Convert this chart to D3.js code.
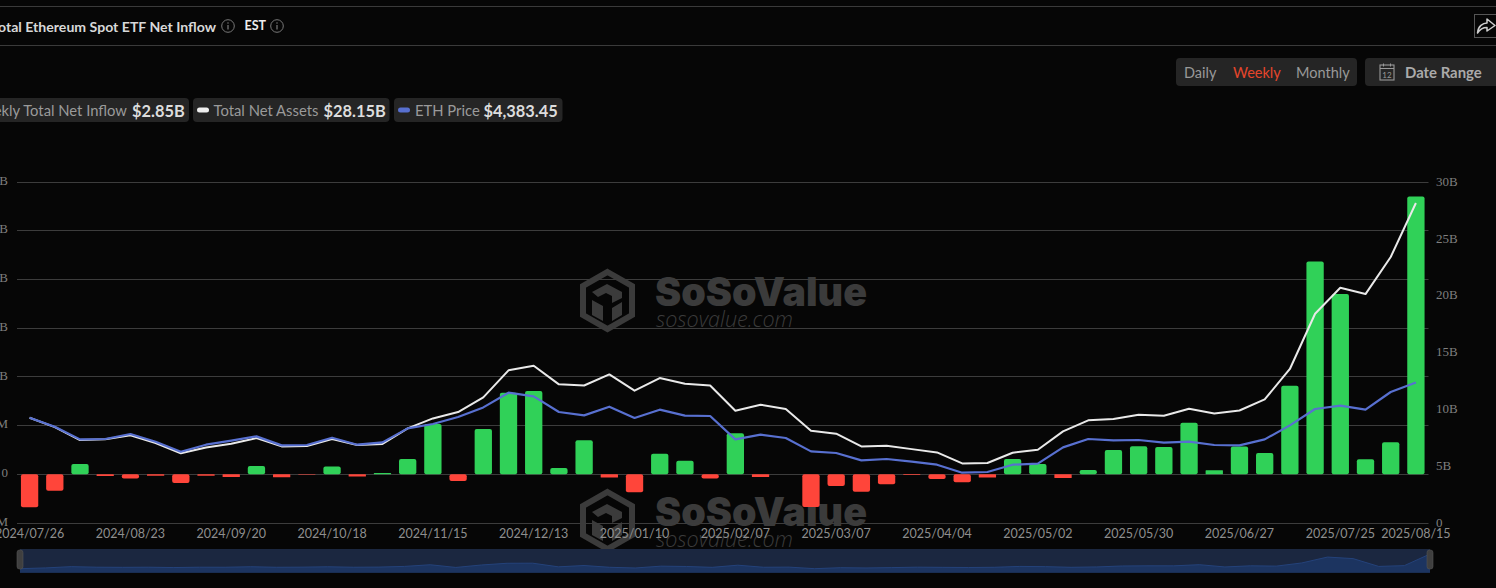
<!DOCTYPE html>
<html>
<head>
<meta charset="utf-8">
<script src="https://cdn.jsdelivr.net/npm/d3@7/dist/d3.min.js"></script>
<style>
html,body{margin:0;padding:0;background:#060606;overflow:hidden}
svg{display:block;font-family:Lato,"Open Sans",sans-serif}
</style>
</head>
<body>
<svg id="c" width="1496" height="588"></svg>
<script>
const dates = ["2024/07/26","2024/08/02","2024/08/09","2024/08/16","2024/08/23","2024/08/30","2024/09/06","2024/09/13","2024/09/20","2024/09/27","2024/10/04","2024/10/11","2024/10/18","2024/10/25","2024/11/01","2024/11/08","2024/11/15","2024/11/22","2024/11/29","2024/12/06","2024/12/13","2024/12/20","2024/12/27","2025/01/03","2025/01/10","2025/01/17","2025/01/24","2025/01/31","2025/02/07","2025/02/14","2025/02/21","2025/02/28","2025/03/07","2025/03/14","2025/03/21","2025/03/28","2025/04/04","2025/04/11","2025/04/18","2025/04/25","2025/05/02","2025/05/09","2025/05/16","2025/05/23","2025/05/30","2025/06/06","2025/06/13","2025/06/20","2025/06/27","2025/07/04","2025/07/11","2025/07/18","2025/07/25","2025/08/01","2025/08/08","2025/08/15"];
const netInflow = [-0.339,-0.168,0.106,-0.017,-0.044,-0.015,-0.089,-0.015,-0.027,0.086,-0.03,-0.006,0.079,-0.024,0.012,0.157,0.516,-0.068,0.465,0.838,0.855,0.065,0.349,-0.034,-0.185,0.212,0.14,-0.044,0.42,-0.027,0,-0.335,-0.12,-0.178,-0.103,-0.008,-0.048,-0.082,-0.034,0.157,0.106,-0.037,0.044,0.25,0.287,0.28,0.53,0.041,0.284,0.219,0.91,2.185,1.85,0.154,0.328,2.85];
const netAssets = [9.26,8.44,7.3,7.36,7.71,7.04,6.13,6.65,6.98,7.47,6.74,6.77,7.39,6.86,6.95,8.32,9.2,9.76,11.05,13.43,13.84,12.2,12.1,13.07,11.64,12.75,12.25,12.1,9.88,10.4,10.03,8.12,7.86,6.74,6.8,6.5,6.21,5.24,5.28,6.18,6.45,8.06,9.03,9.15,9.53,9.44,10.05,9.64,9.9,10.87,13.55,18.41,20.7,20.14,23.4,28.15];
const ethPrice = [3283,3003,2607,2619,2775,2535,2223,2441,2566,2700,2420,2432,2660,2441,2513,2950,3087,3305,3604,4063,3947,3461,3355,3626,3274,3533,3346,3336,2607,2753,2650,2233,2183,1952,1996,1911,1818,1568,1590,1818,1849,2357,2619,2575,2588,2504,2535,2432,2420,2607,3043,3555,3657,3533,4085,4383.45];
const xTickLabels = ["2024/07/26","2024/08/23","2024/09/20","2024/10/18","2024/11/15","2024/12/13","2025/01/10","2025/02/07","2025/03/07","2025/04/04","2025/05/02","2025/05/30","2025/06/27","2025/07/25","2025/08/15"];
const leftTicks = [-0.5,0,0.5,1,1.5,2,2.5,3];
const rightTicks = [0,5,10,15,20,25,30];

const svg = d3.select("#c");
const GRID="#3c3c3c", AXIS="#7f7f7f", GREEN="#30d158", RED="#ff453a", WHITE="#e9e9e9", BLUE="#5870d0";
const top_=182, bot=523, left=17, right=1428.5;

const x = d3.scaleBand().domain(dates).range([left,right]).paddingInner(0.313).paddingOuter(0.156);
const cx = d => x(d)+x.bandwidth()/2;
const yL = d3.scaleLinear().domain([-0.5,3]).range([bot,top_]);
const yR = d3.scaleLinear().domain([0,30]).range([bot,top_]);
const yE = d3.scaleLinear().domain([0,10632]).range([bot,top_]);

// page chrome
function hline(y){svg.append("line").attr("x1",0).attr("x2",1496).attr("y1",y).attr("y2",y).attr("stroke","#3a3a3a").attr("stroke-width",1);}
hline(6.5);hline(45.5);

function txt(x,y,s,o={}){
  return svg.append("text").attr("x",x).attr("y",y).attr("text-anchor",o.a||"start")
   .attr("dominant-baseline","central").attr("fill",o.c||"#aaa").attr("font-size",o.s||14)
   .attr("font-weight",o.w||400).attr("font-family",o.f||null).text(s);
}
function info(cx,cy){
  svg.append("circle").attr("cx",cx).attr("cy",cy).attr("r",6.3).attr("fill","none").attr("stroke","#777").attr("stroke-width",1);
  svg.append("line").attr("x1",cx).attr("x2",cx).attr("y1",cy-1).attr("y2",cy+3.5).attr("stroke","#888").attr("stroke-width",1.1);
  svg.append("circle").attr("cx",cx).attr("cy",cy-3).attr("r",.7).attr("fill","#888");
}
txt(216,26.5,"Total Ethereum Spot ETF Net Inflow",{a:"end",c:"#d8d8d8",s:14.1,w:700});
info(228,26);
txt(244.5,25.5,"EST",{c:"#eee",s:12.5,w:700});
info(277,26);

// share box
svg.append("rect").attr("x",1474.5).attr("y",14.5).attr("width",30).attr("height",23).attr("fill","none").attr("stroke","#555");
svg.append("path").attr("d","M1477.5 33 C1478 26 1483 23 1487 23 L1487 19 L1495 25.5 L1487 31 L1487 27.5 C1483.5 27.5 1480 29 1477.5 33 Z")
  .attr("fill","none").attr("stroke","#cfcfcf").attr("stroke-width",1.5).attr("stroke-linejoin","round");

// range buttons
const chip="#252525";
svg.append("rect").attr("x",1176).attr("y",58).attr("width",181).attr("height",28).attr("rx",4).attr("fill",chip);
svg.append("rect").attr("x",1365).attr("y",58).attr("width",160).attr("height",28).attr("rx",4).attr("fill",chip);
txt(1184,72,"Daily",{c:"#999",s:14.5});
txt(1233,72,"Weekly",{c:"#e5452b",s:14.5});
txt(1296,72,"Monthly",{c:"#999",s:14.5});
txt(1405,72,"Date Range",{c:"#aaa",s:14.9,w:700});
svg.append("rect").attr("x",1380).attr("y",65).attr("width",14).attr("height",15).attr("fill","none").attr("stroke","#999").attr("stroke-width",1.1);
svg.append("line").attr("x1",1380).attr("x2",1394).attr("y1",68.5).attr("y2",68.5).attr("stroke","#999");
svg.selectAll(".peg").data([1383.5,1390.5]).join("line").attr("x1",d=>d).attr("x2",d=>d).attr("y1",63.5).attr("y2",66.5).attr("stroke","#999");
txt(1387,74.5,"12",{a:"middle",c:"#999",s:8});

// legend chips
[[ -20,209],[193,196.5],[394,168.5]].forEach(d=>svg.append("rect").attr("x",d[0]).attr("y",98).attr("width",d[1]).attr("height",24).attr("rx",4).attr("fill",chip));
txt(127,110,"Weekly Total Net Inflow",{a:"end",c:"#9a9a9a",s:14.8});
txt(132,110,"$2.85B",{c:"#ddd",s:16.4,w:700});
svg.append("rect").attr("x",197).attr("y",107.5).attr("width",12).attr("height",5).attr("rx",2.5).attr("fill","#eee");
txt(213.5,110,"Total Net Assets",{c:"#9a9a9a",s:14.8});
txt(323.5,110,"$28.15B",{c:"#ddd",s:16.4,w:700});
svg.append("rect").attr("x",398).attr("y",107.5).attr("width",12).attr("height",5).attr("rx",2.5).attr("fill",BLUE);
txt(415,110,"ETH Price",{c:"#9a9a9a",s:14.8});
txt(483.5,110,"$4,383.45",{c:"#ddd",s:16.4,w:700});

// watermarks
function watermark(dy){
  const g=svg.append("g").attr("transform",`translate(0,${dy})`);
  const W="#3b3b3b";
  g.append("path").attr("d","M607.5 272 L632 286 L632 315 L607.5 329 L583 315 L583 286 Z").attr("fill","none").attr("stroke",W).attr("stroke-width",6);
  g.append("path").attr("d","M592 292 L607 284 L622 292 L622 298 L612 303 L612 296 L606 293 L598 297 Z M592 300 L603 306 L603 321 L592 315 Z M612 308 L622 302 L622 315 L612 321 Z").attr("fill",W);
  g.append("text").attr("x",655).attr("y",306).attr("font-family","Inter,Lato,sans-serif").attr("font-weight",900)
    .attr("font-size",40).attr("textLength",212).attr("lengthAdjust","spacingAndGlyphs").attr("fill",W).text("SoSoValue");
  g.append("text").attr("x",656).attr("y",327).attr("font-family","'Open Sans',sans-serif").attr("font-style","italic").attr("font-weight",300)
    .attr("font-size",21.5).attr("textLength",137).attr("lengthAdjust","spacingAndGlyphs").attr("fill",W).text("sosovalue.com");
}
watermark(0);watermark(220);

// grid + axes
const gGrid=svg.append("g");
gGrid.selectAll("line").data(leftTicks).join("line").attr("x1",left).attr("x2",right)
  .attr("y1",d=>Math.floor(yL(d))+.5).attr("y2",d=>Math.floor(yL(d))+.5).attr("stroke",GRID);

const fmtL=d=>d===0?"0":(Math.abs(d)<1?(d*1000)+"M":d+"B");
const axL=svg.append("g").attr("transform","translate(8,-2)").call(d3.axisLeft(yL).tickValues(leftTicks).tickFormat(fmtL).tickSize(0).tickPadding(0));
axL.select(".domain").remove();
const yRLabel=d3.scaleLinear().domain([0,30]).range([522,181]);
const axR=svg.append("g").attr("transform","translate(1436,0)").call(d3.axisRight(yRLabel).tickValues(rightTicks).tickFormat(d=>d===0?"0":d+"B").tickSize(0).tickPadding(0));
axR.select(".domain").remove();
[axL,axR].forEach(a=>a.selectAll("text").attr("fill",AXIS).attr("font-size",13).attr("font-family","'Liberation Serif',serif"));
const axX=svg.append("g").attr("transform","translate(0,529)").call(d3.axisBottom(x).tickValues(xTickLabels).tickSize(0).tickPadding(0));
axX.select(".domain").remove();
axX.selectAll("text").attr("fill","#8e8e8e").attr("font-size",12.5).attr("font-family","Lato,sans-serif").attr("dy",".71em");

// bars
const data=dates.map((d,i)=>({d,v:netInflow[i]}));
svg.append("g").selectAll("rect").data(data).join("rect")
  .attr("x",d=>x(d.d)).attr("width",x.bandwidth())
  .attr("y",d=>Math.min(yL(d.v),yL(0))).attr("height",d=>Math.abs(yL(d.v)-yL(0)))
  .attr("rx",d=>Math.abs(yL(d.v)-yL(0))>4?2:0.5)
  .attr("fill",d=>d.v>=0?GREEN:RED);

// lines
const lineOf=(scale)=>d3.line().x((v,i)=>cx(dates[i])).y(v=>scale(v));
svg.append("path").datum(netAssets).attr("d",lineOf(yR)).attr("fill","none").attr("stroke",WHITE).attr("stroke-width",2).attr("stroke-linejoin","round");
svg.append("path").datum(ethPrice).attr("d",lineOf(yE)).attr("fill","none").attr("stroke",BLUE).attr("stroke-width",2.2).attr("stroke-linejoin","round");

// slider
const sx0=20,sx1=1430,sTop=549,sBot=572.7;
svg.append("rect").attr("x",sx0).attr("y",sTop).attr("width",sx1-sx0).attr("height",sBot-sTop).attr("fill","#1b2740");
const sX=d3.scalePoint().domain(dates).range([sx0,sx1]);
const sY=d3.scaleLinear().domain([d3.min(netInflow),d3.max(netInflow)]).range([568.7,554]);
svg.append("path").datum(netInflow)
  .attr("d",d3.area().x((v,i)=>sX(dates[i])).y0(sBot).y1(v=>sY(v)))
  .attr("fill","#1c3460");
svg.append("path").datum(netInflow)
  .attr("d",d3.line().x((v,i)=>sX(dates[i])).y(v=>sY(v)))
  .attr("fill","none").attr("stroke","#24427a").attr("stroke-width",1);
[sx0,sx1].forEach(v=>{
  svg.append("rect").attr("x",v-3).attr("y",550).attr("width",6).attr("height",19).attr("rx",2.5).attr("fill","#3f3f3f").attr("stroke","#555").attr("stroke-width",.6);
});
</script>
</body>
</html>
